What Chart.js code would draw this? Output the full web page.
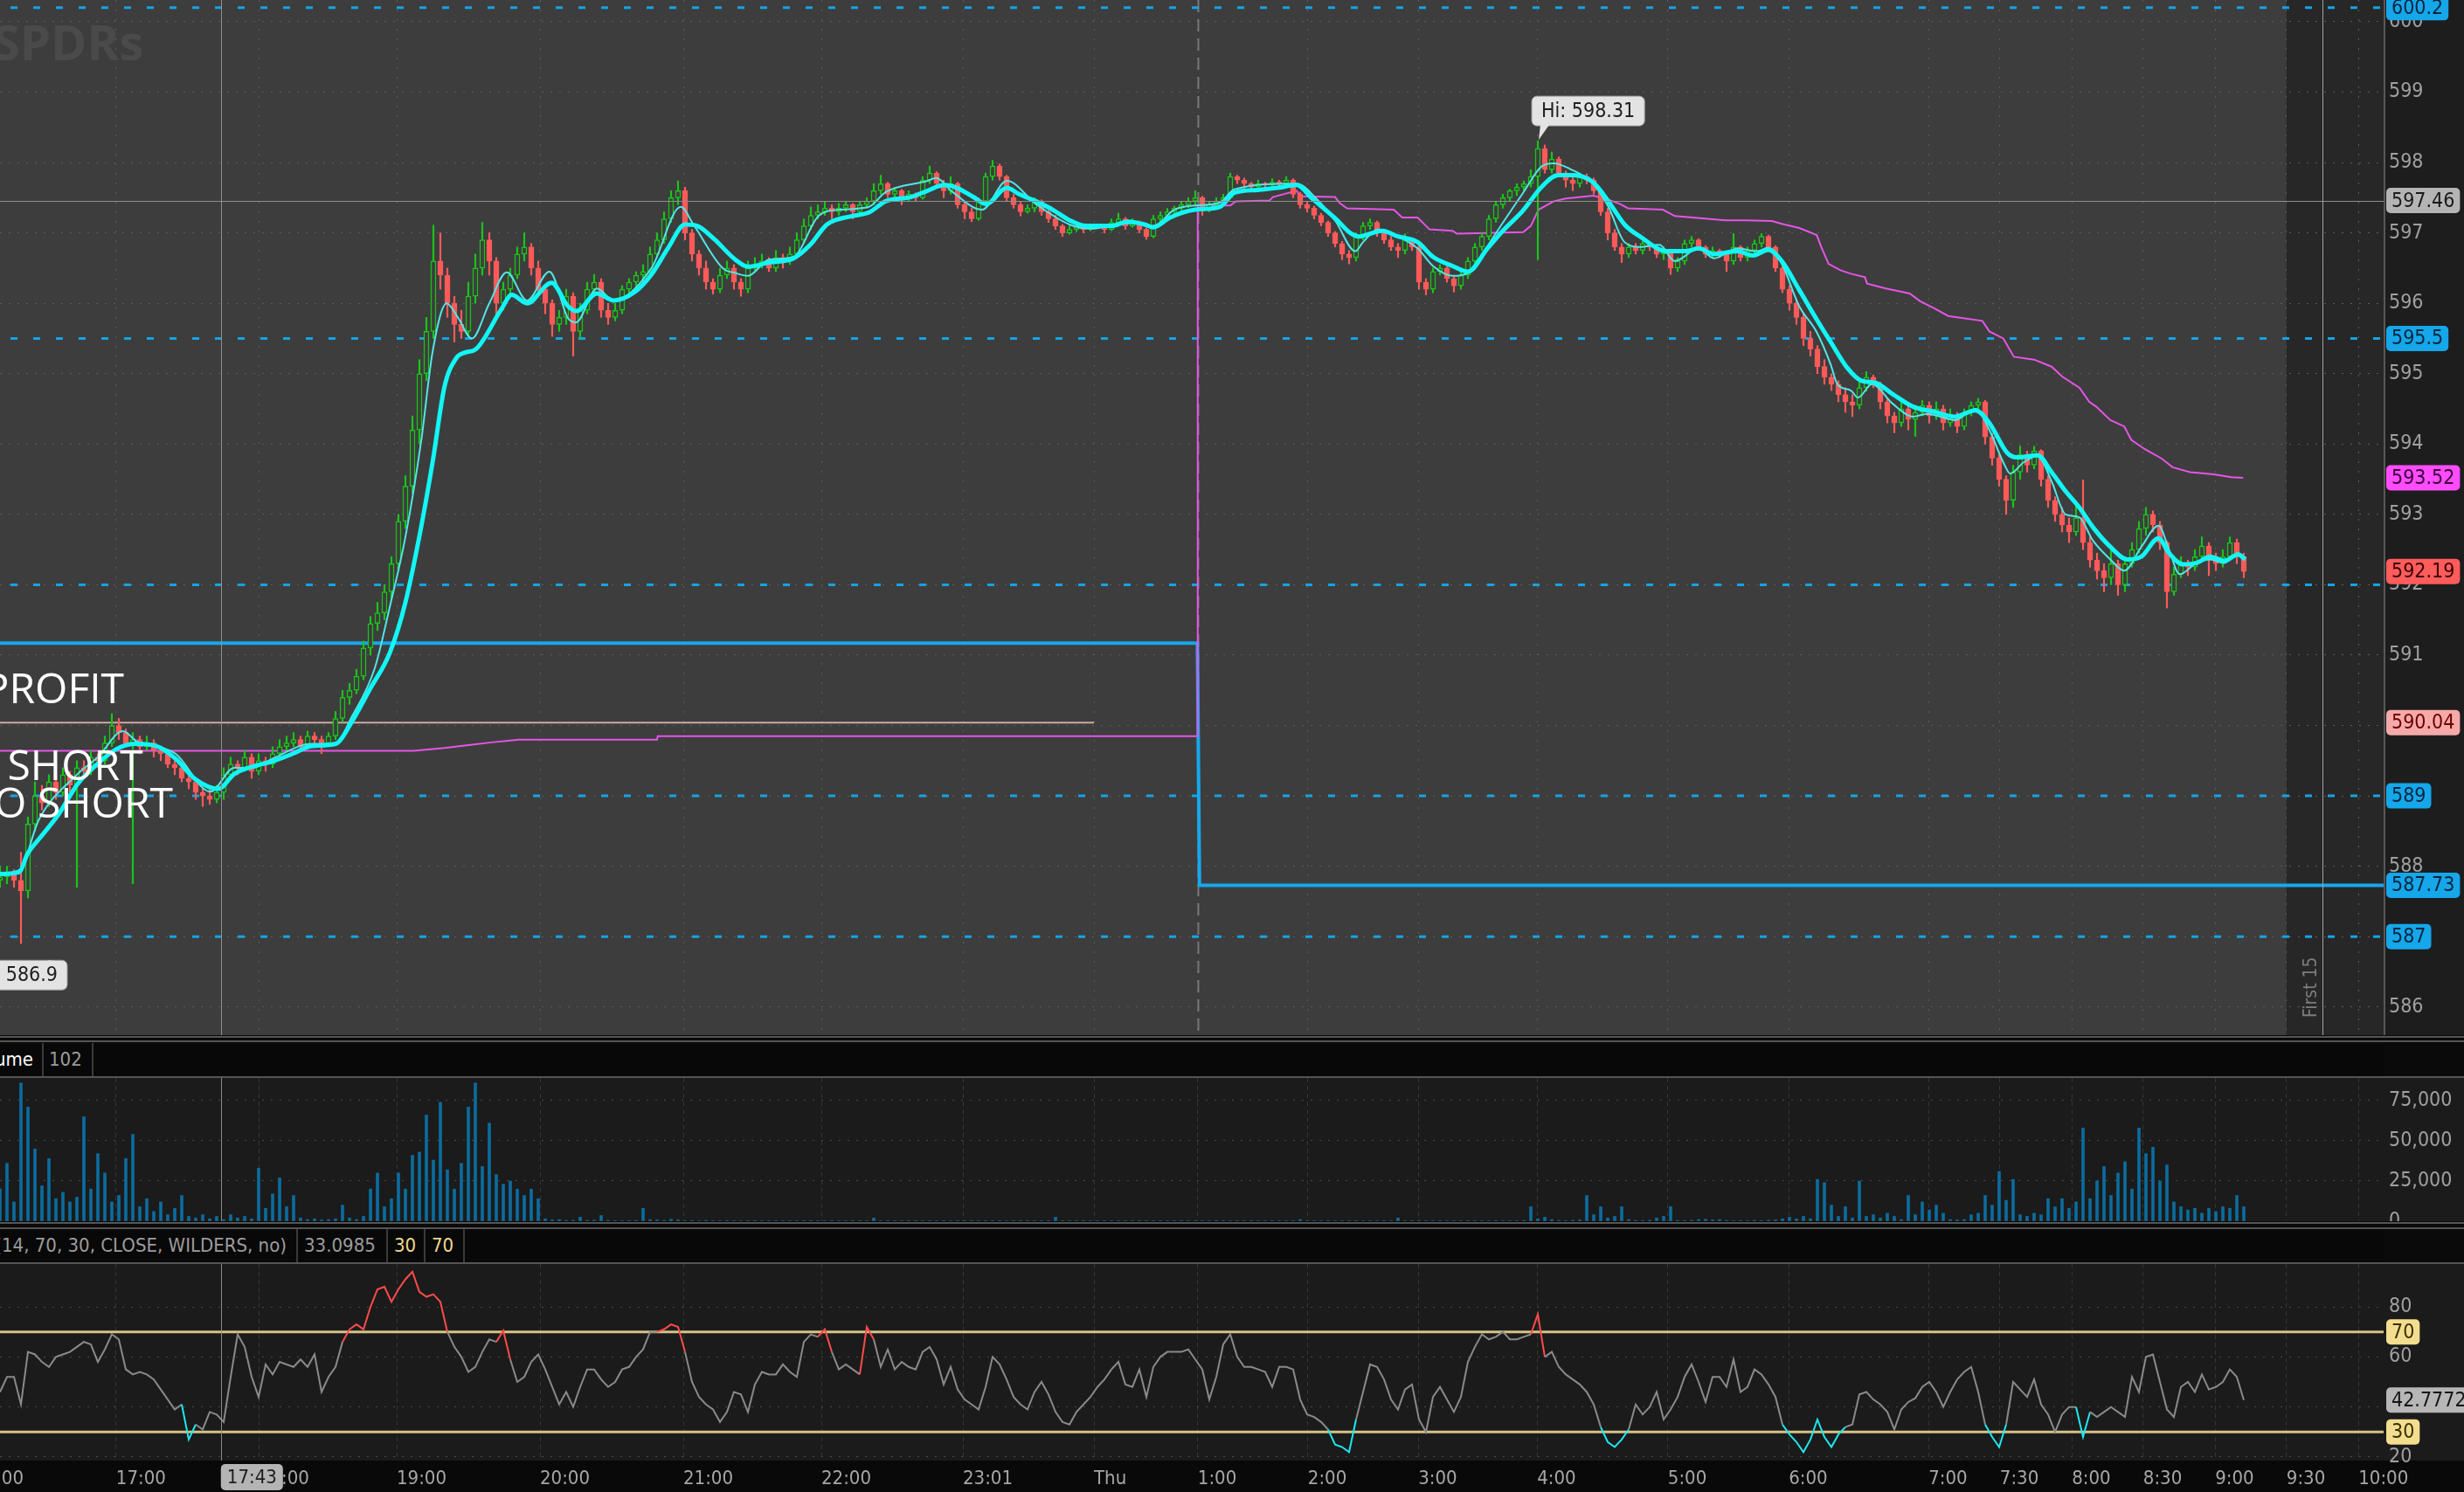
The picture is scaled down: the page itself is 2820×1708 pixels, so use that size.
<!DOCTYPE html>
<html><head><meta charset="utf-8"><title>SPY 1m</title>
<script src="https://cdn.jsdelivr.net/npm/chart.js@4.4.1/dist/chart.umd.min.js"></script>
<style>
html,body{margin:0;padding:0;width:2820px;height:1708px;background:#0a0a0a;overflow:hidden}
canvas{position:absolute;left:0;display:block}
.sep{position:absolute;left:0;width:2820px;background:#555}
.head{position:absolute;left:0;width:2728px;height:38px;background:#080808;overflow:hidden;font-family:'Liberation Sans Narrow','DejaVu Sans Condensed','Open Sans',sans-serif;font-size:22px;color:#9c9c9c}
.head span{position:absolute;top:6px;white-space:nowrap}
.head i{position:absolute;top:0;width:2px;height:38px;background:#3a3a3a}
</style></head><body>
<canvas id="cMain" width="2820" height="1185" style="top:0"></canvas>
<div class="sep" style="top:1186px;height:2px"></div>
<div class="sep" style="top:1191px;height:2px"></div>
<div class="head" style="top:1194px"><span style="left:38px;transform:translateX(-100%);color:#fff">Volume</span><i style="left:48px"></i><span style="left:56px">102</span><i style="left:105px"></i></div>
<div class="sep" style="top:1232px;height:2px"></div>
<canvas id="cVol" width="2820" height="164" style="top:1234px"></canvas>
<div class="sep" style="top:1399px;height:2px"></div>
<div class="sep" style="top:1405px;height:2px"></div>
<div class="head" style="top:1407px"><span style="left:328px;transform:translateX(-100%)">RSI (14, 70, 30, CLOSE, WILDERS, no)</span><i style="left:339px"></i><span style="left:348px">33.0985</span><i style="left:442px"></i><span style="left:451px;color:#f0d890">30</span><i style="left:485px"></i><span style="left:494px;color:#f0d890">70</span><i style="left:530px"></i></div>
<div class="sep" style="top:1445px;height:2px"></div>
<canvas id="cRsi" width="2820" height="261" style="top:1447px"></canvas>
<script>
// ---------- DATA ----------
const tickBars = [-3.75,16.6,37.1,56.75,77.25,97.75,117.5,137.75,156.5,171.35,187.1,202.9,219.9,238.6,255.9,275.9,286.1,296.4,306.6,316.9,327.1,337.4];
const tickLabels = ['16:00','17:00','18:00','19:00','20:00','21:00','22:00','23:01','Thu','1:00','2:00','3:00','4:00','5:00','6:00','7:00','7:30','8:00','8:30','9:00','9:30','10:00'];
const priceTicks = [586,587,588,589,590,591,592,593,594,595,596,597,598,599,600];
const volTicks = [0,25000,50000,75000];
const rsiTicks = [20,40,60,80];
const levels = [600.2,595.5,592,589,587];          // dashed price levels
const taggedLevels = [600.2,595.5,589,587];
const prevClose = 590.04, prevCloseEnd = 156.5;
const stopX = [-5,171.3,171.6,346];
const stopY = [591.17,591.17,587.73,587.73];
const crossBar = 31.6, crossPrice = 597.46, crossTime = '17:43';
const sessionBreak = 171.35, expansionStart = 327.1, first15Bar = 332.25;
const rsiUpper = 70, rsiLower = 30;
const notes = [['PROFIT',17.75,590.32],['SHORT',20.45,589.23],['O SHORT',24.75,588.69]];
// [open, high, low, close] per bar
const candles = [
[587.8,588,587.7,587.85],[587.85,588,587.75,587.9],[587.9,587.95,587.7,587.8],[587.8,588.2,586.9,587.65],[587.65,588.7,587.55,588.6],
[588.6,589.2,588.5,589],[589,589.15,588.8,588.9],[588.9,589.3,588.85,589.2],[589.2,589.3,588.95,589.05],[589.05,589.4,589,589.3],
[589.3,589.35,589.05,589.15],[589.15,589.5,587.7,589.4],[589.4,589.5,589.25,589.35],[589.35,589.65,589.3,589.55],[589.55,589.6,589.4,589.5],
[589.5,589.85,589.45,589.75],[589.75,590.17,589.7,590],[590,590.1,589.8,589.9],[589.9,589.95,589.7,589.75],[589.75,589.9,587.75,589.8],
[589.8,589.85,589.6,589.7],[589.7,589.85,589.65,589.75],[589.75,589.8,589.55,589.65],[589.65,589.7,589.5,589.6],[589.6,589.65,589.4,589.45],
[589.45,589.5,589.3,589.4],[589.4,589.45,589.2,589.25],[589.25,589.3,589.1,589.2],[589.2,589.25,588.95,589.05],[589.05,589.1,588.85,589],
[589,589.1,588.88,588.95],[588.95,589.15,588.9,589.05],[589.05,589.4,588.95,589.3],[589.3,589.55,589.25,589.45],[589.45,589.5,589.3,589.4],
[589.4,589.65,589.35,589.55],[589.55,589.6,589.25,589.35],[589.35,589.6,589.3,589.5],[589.5,589.55,589.35,589.45],[589.45,589.7,589.4,589.6],
[589.6,589.8,589.55,589.7],[589.7,589.85,589.65,589.75],[589.75,589.9,589.7,589.8],[589.8,589.85,589.65,589.7],[589.7,589.92,589.68,589.85],
[589.85,589.9,589.75,589.8],[589.8,589.85,589.6,589.75],[589.75,589.9,589.7,589.85],[589.85,590.2,589.8,590.1],[590.1,590.5,590.05,590.4],
[590.4,590.6,590.3,590.5],[590.5,590.8,590.45,590.7],[590.7,591.2,590.65,591.1],[591.1,591.55,591,591.45],[591.45,591.75,591.35,591.6],
[591.6,592,591.5,591.9],[591.9,592.4,591.8,592.3],[592.3,593,592.2,592.9],[592.9,593.55,592.8,593.4],[593.4,594.4,593.3,594.2],
[594.2,595.2,594,595],[595,595.8,594.9,595.6],[595.6,597.11,595.5,596.6],[596.6,597,596.2,596.4],[596.4,596.5,595.8,596],
[596,596.1,595.45,595.7],[595.7,595.9,595.5,595.6],[595.6,596.3,595.55,596.1],[596.1,596.7,596,596.5],[596.5,597.15,596.4,596.9],
[596.9,597,596.4,596.6],[596.6,596.65,595.8,596],[596,596.3,595.9,596.2],[596.2,596.5,596.1,596.4],[596.4,596.8,596.35,596.7],
[596.7,597,596.6,596.8],[596.8,596.85,596.4,596.5],[596.5,596.6,596.1,596.2],[596.2,596.25,595.85,596],[596,596.05,595.53,595.7],
[595.7,595.9,595.6,595.8],[595.8,596.2,595.7,596.1],[596.1,596.15,595.25,595.6],[595.6,596,595.5,595.9],[595.9,596.3,595.85,596.2],
[596.2,596.41,596.1,596.3],[596.3,596.35,595.8,595.9],[595.9,596,595.7,595.8],[595.8,596,595.75,595.9],[595.9,596.25,595.85,596.2],
[596.2,596.35,596.1,596.3],[596.3,596.45,596.2,596.4],[596.4,596.55,596.3,596.45],[596.45,596.8,596.4,596.7],[596.7,597,596.65,596.9],
[596.9,597.3,596.85,597.2],[597.2,597.6,597.15,597.5],[597.5,597.74,597.4,597.6],[597.6,597.65,596.9,597],[597,597.05,596.6,596.7],
[596.7,596.75,596.4,596.5],[596.5,596.6,596.2,596.3],[596.3,596.35,596.13,596.2],[596.2,596.5,596.15,596.4],[596.4,596.6,596.35,596.5],
[596.5,596.55,596.2,596.3],[596.3,596.35,596.1,596.2],[596.2,596.6,596.15,596.5],[596.5,596.65,596.45,596.55],[596.55,596.7,596.5,596.6],
[596.6,596.65,596.45,596.5],[596.5,596.75,596.45,596.65],[596.65,596.7,596.5,596.6],[596.6,596.8,596.55,596.7],[596.7,597,596.65,596.9],
[596.9,597.2,596.85,597.1],[597.1,597.37,597.05,597.25],[597.25,597.4,597.2,597.3],[597.3,597.45,597.25,597.35],[597.35,597.4,597.2,597.3],
[597.3,597.42,597.25,597.35],[597.35,597.45,597.3,597.4],[597.4,597.42,597.2,597.3],[597.3,597.45,597.25,597.4],[597.4,597.5,597.35,597.45],
[597.45,597.7,597.4,597.6],[597.6,597.82,597.55,597.7],[597.7,597.72,597.5,597.55],[597.55,597.65,597.45,597.6],[597.6,597.62,597.4,597.5],
[597.5,597.6,597.45,597.55],[597.55,597.57,597.45,597.5],[597.5,597.8,597.48,597.75],[597.75,597.95,597.7,597.85],[597.85,597.87,597.65,597.7],
[597.7,597.75,597.5,597.6],[597.6,597.8,597.55,597.7],[597.7,597.72,597.35,597.4],[597.4,597.45,597.2,597.3],[597.3,597.35,597.16,597.2],
[597.2,597.5,597.18,597.45],[597.45,597.85,597.4,597.8],[597.8,598.03,597.75,597.95],[597.95,597.98,597.75,597.8],[597.8,597.82,597.45,597.5],
[597.5,597.55,597.35,597.4],[597.4,597.45,597.24,597.3],[597.3,597.4,597.28,597.35],[597.35,597.5,597.3,597.45],[597.45,597.47,597.25,597.3],
[597.3,597.32,597.15,597.2],[597.2,597.25,597.05,597.1],[597.1,597.12,596.95,597],[597,597.1,596.98,597.05],[597.05,597.15,597.02,597.1],
[597.1,597.12,597,597.05],[597.05,597.12,597.03,597.1],[597.1,597.12,597.08,597.1],[597.1,597.11,597,597.05],[597.05,597.2,597.03,597.15],
[597.15,597.28,597.12,597.2],[597.2,597.22,597.05,597.1],[597.1,597.2,597.08,597.15],[597.15,597.17,597,597.05],[597.05,597.07,596.91,596.95],
[596.95,597.25,596.93,597.2],[597.2,597.3,597.16,597.25],[597.25,597.35,597.2,597.3],[597.3,597.38,597.25,597.35],[597.35,597.45,597.3,597.4],
[597.4,597.5,597.36,597.45],[597.45,597.6,597.4,597.5],[597.5,597.52,597.25,597.35],[597.35,597.45,597.3,597.4],[597.4,597.5,597.36,597.45],
[597.45,597.55,597.4,597.5],[597.5,597.85,597.48,597.8],[597.8,597.82,597.7,597.75],[597.75,597.78,597.62,597.7],[597.7,597.72,597.6,597.65],
[597.65,597.75,597.62,597.7],[597.7,597.72,597.62,597.68],[597.68,597.77,597.65,597.72],[597.72,597.75,597.66,597.7],[597.7,597.8,597.68,597.75],
[597.75,597.77,597.5,597.55],[597.55,597.58,597.35,597.4],[597.4,597.45,597.3,597.35],[597.35,597.38,597.2,597.25],[597.25,597.28,597.1,597.15],
[597.15,597.17,596.95,597],[597,597.02,596.8,596.85],[596.85,596.88,596.62,596.7],[596.7,596.75,596.56,596.65],[596.65,597,596.6,596.95],
[596.95,597.15,596.9,597.1],[597.1,597.2,597.05,597.15],[597.15,597.17,596.95,597],[597,597.05,596.85,596.9],[596.9,596.95,596.75,596.8],
[596.8,596.85,596.65,596.75],[596.75,596.99,596.7,596.9],[596.9,596.92,596.75,596.8],[596.8,596.82,596.2,596.3],[596.3,596.35,596.12,596.2],
[596.2,596.5,596.15,596.45],[596.45,596.55,596.4,596.5],[596.5,596.52,596.3,596.35],[596.35,596.38,596.16,596.25],[596.25,596.45,596.2,596.4],
[596.4,596.65,596.35,596.6],[596.6,596.85,596.55,596.8],[596.8,597,596.75,596.95],[596.95,597.25,596.9,597.2],[597.2,597.45,597.15,597.4],
[597.4,597.55,597.35,597.5],[597.5,597.62,597.45,597.6],[597.6,597.7,597.53,597.65],[597.65,597.74,597.6,597.7],[597.7,597.9,597.65,597.8],
[597.8,598.31,596.62,598.2],[598.2,598.25,597.85,597.9],[597.9,598.15,597.85,598.05],[598.05,598.08,597.8,597.85],[597.85,597.88,597.65,597.75],
[597.75,597.8,597.6,597.7],[597.7,597.85,597.65,597.8],[597.8,597.84,597.7,597.75],[597.75,597.78,597.55,597.6],[597.6,597.62,597.25,597.3],
[597.3,597.35,596.9,597],[597,597.05,596.75,596.8],[596.8,596.85,596.58,596.7],[596.7,596.85,596.65,596.8],[596.8,596.85,596.7,596.75],
[596.75,596.88,596.7,596.85],[596.85,596.87,596.75,596.8],[596.8,596.82,596.65,596.7],[596.7,596.8,596.62,596.75],[596.75,596.77,596.41,596.5],
[596.5,596.65,596.45,596.6],[596.6,596.9,596.55,596.85],[596.85,596.95,596.8,596.9],[596.9,596.92,596.75,596.8],[596.8,596.82,596.65,596.7],
[596.7,596.8,596.65,596.75],[596.75,596.77,596.65,596.7],[596.7,596.72,596.45,596.6],[596.6,596.99,596.55,596.8],[596.8,596.82,596.6,596.65],
[596.65,596.8,596.6,596.75],[596.75,596.9,596.7,596.85],[596.85,596.99,596.8,596.95],[596.95,596.97,596.75,596.8],[596.8,596.82,596.45,596.5],
[596.5,596.52,596.15,596.2],[596.2,596.25,595.9,596],[596,596.05,595.7,595.8],[595.8,595.85,595.4,595.5],[595.5,595.6,595.25,595.35],
[595.35,595.4,595,595.1],[595.1,595.2,594.85,594.95],[594.95,595,594.76,594.85],[594.85,594.9,594.6,594.7],[594.7,594.8,594.45,594.6],
[594.6,594.7,594.39,594.55],[594.55,594.9,594.5,594.8],[594.8,595.03,594.75,594.95],[594.95,594.98,594.8,594.85],[594.85,594.88,594.5,594.6],
[594.6,594.65,594.3,594.4],[594.4,594.45,594.16,594.3],[594.3,594.6,594.25,594.5],[594.5,594.55,594.2,594.35],[594.35,594.55,594.11,594.45],
[594.45,594.62,594.4,594.55],[594.55,594.6,594.3,594.4],[594.4,594.6,594.35,594.5],[594.5,594.55,594.2,594.3],[594.3,594.5,594.25,594.4],
[594.4,594.45,594.16,594.25],[594.25,594.5,594.2,594.45],[594.45,594.6,594.4,594.55],[594.55,594.65,594.5,594.6],[594.6,594.62,594,594.1],
[594.1,594.15,593.7,593.8],[593.8,593.85,593.4,593.5],[593.5,593.55,593,593.2],[593.2,593.7,593.1,593.6],[593.6,593.97,593.5,593.85],
[593.85,593.9,593.6,593.7],[593.7,593.97,593.65,593.9],[593.9,593.92,593.4,593.5],[593.5,593.55,593.1,593.2],[593.2,593.25,592.9,593],
[593,593.1,592.75,592.85],[592.85,592.95,592.6,592.75],[592.75,593.14,592.7,592.95],[592.95,593.49,592.5,592.6],[592.6,592.68,592.25,592.35],
[592.35,592.45,592.08,592.2],[592.2,592.3,591.9,592.1],[592.1,592.5,592,592.3],[592.3,592.35,591.85,592],[592,592.4,591.9,592.3],
[592.3,592.6,592.25,592.5],[592.5,592.9,592.45,592.8],[592.8,593.1,592.7,593],[593,593.05,592.75,592.85],[592.85,592.9,592.5,592.6],
[592.6,592.62,591.67,591.9],[591.9,592.25,591.85,592.15],[592.15,592.4,592.1,592.3],[592.3,592.35,592.13,592.25],[592.25,592.5,592.2,592.4],
[592.4,592.68,592.35,592.55],[592.55,592.6,592.13,592.35],[592.35,592.45,592.2,592.3],[592.3,592.5,592.25,592.4],[592.4,592.68,592.35,592.6],
[592.6,592.65,592.3,592.4],[592.4,592.45,592.1,592.19]
];
const emaSlow = [[0,587.89],[2.8,587.92],[3.9,588.17],[5.6,588.39],[8.4,588.74],[11.1,589.17],[14,589.46],[16.75,589.67],[19.5,589.74],[22.3,589.71],[25.1,589.53],[27.9,589.24],[31.25,589.1],[33.5,589.31],[36.25,589.42],[39,589.49],[41.9,589.6],[44.6,589.71],[48,589.74],[50.2,590.03],[53,590.53],[55.75,591.03],[58,591.75],[60.25,592.82],[61.9,593.75],[63.6,594.82],[65.25,595.22],[66.5,595.3],[68.1,595.35],[71.75,595.92],[73.2,596.12],[75.4,596],[78.9,596.29],[81.25,595.96],[82.45,595.89],[85.4,596.14],[87.8,596.04],[90.8,596.16],[93.2,596.41],[95.6,596.79],[98,597.12],[99.75,597.1],[102.2,596.91],[105.2,596.62],[107,596.52],[110,596.58],[113.55,596.64],[115.9,596.83],[118.3,597.12],[121.9,597.24],[124.3,597.29],[126.7,597.45],[130.3,597.51],[132.7,597.6],[135.1,597.68],[136.9,597.64],[139.25,597.51],[141.1,597.41],[144.05,597.64],[145.8,597.55],[148.2,597.45],[150.6,597.33],[153,597.18],[155.4,597.1],[159,597.1],[161.4,597.16],[163.75,597.12],[165,597.08],[167.4,597.22],[171,597.33],[174.5,597.37],[176.6,597.57],[179.9,597.61],[182.7,597.64],[185.5,597.68],[187.7,597.49],[191.1,597.2],[193.3,596.99],[194.4,596.95],[197.75,597.03],[200,596.95],[202.8,596.87],[205,596.66],[207.8,596.53],[210,596.45],[212.8,596.78],[215,597.03],[217.9,597.32],[220.6,597.66],[222.9,597.82],[225.1,597.82],[227.9,597.72],[230.1,597.45],[232.4,597.12],[234.6,596.95],[238.5,596.74],[241.25,596.74],[243,596.78],[245.2,596.7],[248.55,596.74],[250.75,596.68],[253,596.76],[254.9,596.6],[257.4,596.19],[259.9,595.77],[261.9,595.45],[264.3,595.08],[266.3,594.9],[268.3,594.87],[270.75,594.71],[273.7,594.53],[276.7,594.46],[279.65,594.39],[282.6,594.48],[284.6,594.3],[287.1,593.88],[288.55,593.81],[291.5,593.84],[293.5,593.6],[295.5,593.33],[297.45,593.1],[299.4,592.82],[301.9,592.54],[304.4,592.36],[306.35,592.4],[308.8,592.66],[310.3,592.45],[312.3,592.29],[314.25,592.31],[316.2,592.4],[318.2,592.34],[320.2,592.43],[321.2,592.36]];
const emaFast = [[0,587.89],[2.8,587.95],[5.6,588.67],[11.1,589.31],[14,589.55],[17.6,589.92],[19.5,589.78],[25.1,589.6],[30.1,589.06],[33.5,589.4],[36.25,589.4],[39,589.53],[44.6,589.74],[48,589.74],[50.2,590.1],[53.6,590.81],[55.75,591.68],[58,592.68],[60.25,594.04],[61.9,595.32],[63.9,596],[65.5,595.8],[67.5,595.5],[70,596],[72.5,596.44],[75.4,596.04],[78.6,596.45],[81.25,595.79],[82.4,595.73],[85.4,596.21],[87.8,596.04],[93.2,596.5],[97.4,597.37],[99.2,597.12],[103.4,596.5],[105.2,596.43],[107,596.39],[110,596.62],[113.5,596.66],[117.1,597.24],[120.1,597.33],[124.3,597.37],[126.7,597.58],[132.7,597.74],[133.9,597.78],[136.3,597.58],[140.5,597.33],[144.05,597.74],[148.2,597.41],[153,597.12],[156,597.06],[159,597.1],[162,597.14],[165,597.1],[168,597.33],[171,597.39],[174.5,597.43],[176.6,597.62],[185.5,597.7],[188.3,597.49],[191.1,597.16],[193.9,596.74],[195,596.87],[197.2,597.05],[200,596.95],[202.8,596.78],[205,596.53],[207.8,596.39],[210,596.43],[212.3,596.74],[215.1,597.16],[217.9,597.57],[220.6,597.95],[222.3,597.99],[224.6,597.91],[227.9,597.7],[230.1,597.37],[232.4,596.87],[234.6,596.8],[237.4,596.83],[239.6,596.6],[243,596.78],[245.2,596.64],[248.6,596.78],[251.3,596.74],[253,596.79],[254.9,596.56],[257.4,595.96],[259.9,595.59],[261.9,595.13],[262.85,594.85],[264.8,594.76],[265.8,594.66],[267.8,594.85],[270.8,594.57],[273.7,594.39],[275.7,594.43],[279.7,594.34],[282.6,594.5],[284.6,594.2],[286.6,593.74],[287.6,593.58],[289.5,593.74],[291.5,593.83],[293.5,593.47],[295.5,593],[297.45,592.96],[299.4,592.63],[301.9,592.36],[303.9,592.2],[306.35,592.54],[308.8,592.84],[310.3,592.5],[311.8,592.15],[314.25,592.31],[316.2,592.36],[318.2,592.31],[320.2,592.45],[321.2,592.38]];
const vwap = [[-5,589.64],[59.2,589.64],[63.6,589.68],[67,589.72],[70.3,589.76],[74.2,589.8],[94,589.8],[94.1,589.85],[171.3,589.85],[171.35,597.39],[176,597.39],[176.8,597.45],[181.6,597.46],[182.1,597.51],[185.5,597.6],[186,597.52],[191,597.51],[191.6,597.43],[192.7,597.35],[199.4,597.33],[200.6,597.22],[202.8,597.22],[204.5,597.05],[207.8,597.03],[208.4,596.99],[217.9,597.01],[219,597.1],[220.1,597.33],[222.3,597.45],[224,597.49],[227.9,597.53],[229.6,597.49],[231.8,597.41],[232.9,597.35],[237.9,597.33],[239.6,597.24],[246.9,597.18],[250,597.18],[253.5,597.17],[254.9,597.13],[257.4,597.07],[259.9,596.97],[260.6,596.79],[261.6,596.56],[263.3,596.47],[264.8,596.42],[266.8,596.37],[267.1,596.28],[269.8,596.21],[273.2,596.14],[274.7,596.03],[276.7,595.93],[278.7,595.82],[283.6,595.75],[284.6,595.6],[286.6,595.5],[288.1,595.24],[291,595.2],[293.5,595.1],[295,594.96],[297.5,594.8],[298.9,594.6],[299.9,594.53],[301.9,594.34],[303.9,594.25],[304.9,594.06],[306.8,593.93],[309.3,593.79],[310.8,593.67],[313.3,593.6],[316.7,593.57],[319.2,593.53],[320.9,593.52]];
const volume = [
20000,36000,12000,86000,71000,45000,22000,39000,14000,18000,
12000,15000,65000,20000,42000,30000,12000,16000,39000,54000,
9000,14000,6000,12000,4000,8000,16000,3000,2000,4000,
1500,3000,1000,4000,2000,3000,1500,33000,8000,17000,
27000,9000,16000,2000,1000,1500,800,1000,1500,10000,
2000,1000,3000,20000,30000,9000,14000,30000,20000,41000,
43000,66000,38000,74000,32000,20000,36000,71000,86000,34000,
61000,29000,23000,25000,20000,16000,20000,14000,1500,800,
1000,500,600,2500,500,600,3500,500,400,300,
400,500,8000,1000,800,500,1200,800,300,400,
300,500,200,300,400,200,300,200,400,300,
200,300,200,200,300,200,400,200,300,200,
200,300,200,200,300,2000,300,200,200,300,
200,200,300,200,200,200,300,200,200,200,
300,200,200,200,300,200,200,200,300,200,
200,2500,200,200,300,200,200,200,300,200,
200,200,300,200,200,200,300,200,200,400,
300,200,200,300,400,200,300,200,300,200,
200,300,200,200,300,200,1000,300,200,300,
200,300,200,300,200,300,200,300,200,300,
2000,300,200,300,200,300,200,300,200,300,
200,300,200,300,400,300,200,300,500,9000,
1500,2500,1000,500,400,600,800,16000,4000,9000,
2000,3000,9000,1000,500,400,600,2000,3000,9000,
500,400,600,1000,1200,800,1000,500,300,400,
300,500,400,600,800,1500,2500,1500,3000,1500,
26000,24000,10000,3000,9000,2000,25000,3000,4000,2000,
5000,3000,1000,16000,4000,12000,7000,10000,5000,1000,
800,1000,4000,5000,16000,10000,31000,13000,26000,4000,
3000,5000,4000,14000,9000,14000,8000,12000,58000,14000,
25000,34000,16000,30000,37000,20000,58000,42000,46000,25000,
35000,12000,9000,7000,8000,5000,8000,6000,9000,8000,
16000,9000];
const rsi = [
46,52,52,41,62,61,58,56,60,61,
62,64,66,65,58,63,69,67,55,53,
54,53,51,47,43,39,41,27,33,31,
38,37,34,52,69,64,52,44,57,53,
58,57,56,59,56,61,46,52,56,66,
71,73,71,80,87,88,82,87,91,94,
86,84,85,82,70,64,60,54,56,62,
67,66,70.5,59,50,52,58,61,55,48,
41,46,40,48,55,55,51,48,50,55,
56,60,63,70,70,71,73,72,62,50,
44,41,39,34,38,46,45,38,49,54,
53,53,57,54,52,66,69,68,71,62,
55,57,55,53,72,67,56,63,55,58,
56,55,62,64,59,49,56,47,43,41,
39,48,60,57,51,44,41,39,46,50,
45,38,34,33,38,41,44,48,51,55,
58,49,48,55,44,56,60,62,62,62,
63,59,55,43,52,65,69,60,56,56,
55,54,48,56,56,55,43,37,36,34,
31,25,24,22,35,46,57,56,51,43,
39,47,49,35,30,44,48,43,38,44,
58,64,69,67,68,70,67,67,68,69,
77,60,62,56,53,51,49,46,41,32,
26,24,27,31,41,37,40,46,35,39,
44,52,57,50,42,52,52,48,59,46,
48,55,53,49,44,33,29,26,22,27,
35,28,24,29,32,33,45,46,43,41,
38,31,39,42,43.5,48,50,46,40,46,
51,54,56,46,33,28,24,33,50,47,
44,51,41,37,30,37,40,40,28,38,
36,38,40,38,36,52,46,60,61,50,
39,36,48,50,46,53,47,48,50,55,
52,42.7772];

// ---------- CHART SETUP ----------
const X_MIN = 0, X_MAX = 341;
const FONT = "'Liberation Sans Narrow','DejaVu Sans Condensed','Open Sans',sans-serif";
Chart.defaults.font.family = FONT;
Chart.defaults.animation = false;
Chart.defaults.responsive = false;
Chart.defaults.devicePixelRatio = 1;
Chart.defaults.events = [];
Chart.defaults.plugins.legend.display = false;
Chart.defaults.plugins.tooltip.enabled = false;

const UP = '#19c419', DN = '#ff5a5a', MAIN_BG = '#3d3d3d', AX_BG = '#1d1d1d', LOW_BG = '#1b1b1b';
const AXIS_W = 92;

function xScale(showLabels, gridColor, dash) {
  return {
    type: 'linear', min: X_MIN, max: X_MAX, offset: false,
    afterBuildTicks: s => { s.ticks = tickBars.map(v => ({ value: v })); },
    ticks: { display: showLabels, autoSkip: false, maxRotation: 0, minRotation: 0, align: 'start', color: '#a6a6a6', font: { family: FONT, size: 22 }, padding: 8, callback: (v, i) => tickLabels[i] },
    grid: { color: gridColor, drawTicks: false, offset: false, lineWidth: 1 },
    border: { display: false, dash: dash },
    afterFit: s => { s.paddingLeft = 0; s.paddingRight = 0; s.height = showLabels ? 36 : 0; }
  };
}
function yScale(min, max, ticks, fmt, gridColor) {
  return {
    position: 'right', min, max, beginAtZero: false,
    afterBuildTicks: s => { s.ticks = ticks.map(v => ({ value: v })); },
    ticks: { color: '#a0a0a0', font: { family: FONT, size: 23 }, padding: 6, callback: fmt },
    grid: { color: gridColor, drawTicks: false },
    border: { display: false, dash: [2, 8] },
    afterFit: s => { s.width = AXIS_W; s.paddingTop = 0; s.paddingBottom = 0; }
  };
}
function tag(ctx, x, y, text, bg, fg) {
  ctx.save();
  ctx.font = '23px ' + FONT;
  const w = ctx.measureText(text).width + 12, h = 29;
  ctx.fillStyle = bg; ctx.beginPath(); ctx.roundRect(x, y - h / 2, w, h, 5); ctx.fill();
  ctx.fillStyle = fg; ctx.textBaseline = 'middle'; ctx.textAlign = 'left';
  ctx.fillText(text, x + 6, y + 1);
  ctx.restore();
}
function vline(ctx, x, top, bottom, color, width, dash) {
  ctx.save(); ctx.strokeStyle = color; ctx.lineWidth = width; ctx.setLineDash(dash || []);
  ctx.beginPath(); ctx.moveTo(Math.round(x) + 0.5, top); ctx.lineTo(Math.round(x) + 0.5, bottom); ctx.stroke(); ctx.restore();
}
function bubble(ctx, bx, by, text, tipX, tipY, up) {
  ctx.save();
  ctx.font = '23px ' + FONT;
  const w = ctx.measureText(text).width + 22, h = 34;
  ctx.fillStyle = '#e3e3e3'; ctx.strokeStyle = '#9a9a9a'; ctx.lineWidth = 1;
  ctx.beginPath(); ctx.roundRect(bx, by, w, h, 6); ctx.fill(); ctx.stroke();
  ctx.beginPath();
  if (up) { ctx.moveTo(tipX + 2, by + 1); ctx.lineTo(tipX, tipY); ctx.lineTo(tipX + 12, by + 1); }
  else { ctx.moveTo(tipX + 2, by + h - 1); ctx.lineTo(tipX, tipY); ctx.lineTo(tipX + 12, by + h - 1); }
  ctx.closePath(); ctx.fill();
  ctx.fillStyle = '#202020'; ctx.textBaseline = 'middle'; ctx.fillText(text, bx + 11, by + h / 2 + 1);
  ctx.restore();
  return w;
}
const pts = arr => arr.map(p => ({ x: p[0], y: p[1] }));
const hLine = (v, x0, x1) => [{ x: x0, y: v }, { x: x1, y: v }];

// ---------- MAIN PRICE PANEL ----------
const lastClose = candles[candles.length - 1][3];
const lastVwap = vwap[vwap.length - 1][1];
const lastStop = stopY[stopY.length - 1];
let hiIdx = 0, loIdx = 0;
candles.forEach((c, i) => { if (c[1] > candles[hiIdx][1]) hiIdx = i; if (c[2] < candles[loIdx][2]) loIdx = i; });

const mainPlugin = {
  id: 'mainDeco',
  beforeDraw(chart) {
    const { ctx, chartArea: a, scales: { x } } = chart;
    ctx.save();
    ctx.fillStyle = AX_BG; ctx.fillRect(0, 0, chart.width, chart.height);
    ctx.fillStyle = MAIN_BG; ctx.fillRect(a.left, a.top, a.right - a.left, a.bottom - a.top);
    const ex = x.getPixelForValue(expansionStart);
    ctx.fillStyle = '#272727'; ctx.fillRect(ex, a.top, a.right - ex, a.bottom - a.top);
    ctx.restore();
  },
  beforeDatasetsDraw(chart) {
    const { ctx, chartArea: a, scales: { x } } = chart;
    ctx.save();
    ctx.fillStyle = '#4a4a4a'; ctx.font = "bold 56px 'Open Sans',sans-serif"; ctx.textBaseline = 'alphabetic';
    ctx.fillText('SPDRs', -8, 69);
    ctx.restore();
    vline(ctx, x.getPixelForValue(sessionBreak), a.top, a.bottom, '#777', 2, [14, 8]);
  },
  afterDatasetsDraw(chart) {
    const { ctx, chartArea: a, scales: { x, y } } = chart;
    vline(ctx, x.getPixelForValue(crossBar), a.top, a.bottom, '#8f8f8f', 1);
    ctx.save(); ctx.strokeStyle = '#8f8f8f'; ctx.lineWidth = 1;
    const cy = Math.round(y.getPixelForValue(crossPrice)) + 0.5;
    ctx.beginPath(); ctx.moveTo(a.left, cy); ctx.lineTo(a.right, cy); ctx.stroke(); ctx.restore();
    const fx = x.getPixelForValue(first15Bar);
    vline(ctx, fx, a.top, a.bottom, '#a2a2a2', 1);
    ctx.save(); ctx.translate(fx - 2, a.bottom - 20); ctx.rotate(-Math.PI / 2);
    ctx.fillStyle = '#7c7c7c'; ctx.font = '21px ' + FONT; ctx.textBaseline = 'bottom'; ctx.fillText('First 15', 0, 0); ctx.restore();
    ctx.save(); ctx.fillStyle = '#ffffff'; ctx.font = "48px 'Open Sans',sans-serif"; ctx.textAlign = 'right'; ctx.textBaseline = 'alphabetic';
    notes.forEach(n => ctx.fillText(n[0], x.getPixelForValue(n[1]), y.getPixelForValue(n[2])));
    ctx.restore();
    const hx = x.getPixelForValue(hiIdx), hy = y.getPixelForValue(candles[hiIdx][1]);
    bubble(ctx, hx - 7, hy - 51, 'Hi: ' + candles[hiIdx][1].toFixed(2), hx + 1, hy - 1, false);
    const lx = x.getPixelForValue(loIdx), ly = y.getPixelForValue(candles[loIdx][2]);
    ctx.save(); ctx.font = '23px ' + FONT; const lw = ctx.measureText('Lo: ' + candles[loIdx][2]).width + 22; ctx.restore();
    bubble(ctx, lx + 53 - lw, ly + 19, 'Lo: ' + candles[loIdx][2], lx + 30, ly + 19, true);
  },
  afterDraw(chart) {
    const { ctx, chartArea: a, scales: { y } } = chart;
    ctx.save(); ctx.fillStyle = '#575757'; ctx.fillRect(a.right, 0, 2, chart.height); ctx.restore();
    const X = a.right + 3;
    const blue = '#16a6ea', blueFg = '#06263d';
    taggedLevels.forEach(v => tag(ctx, X, y.getPixelForValue(v), String(v), blue, blueFg));
    tag(ctx, X, y.getPixelForValue(crossPrice), crossPrice.toFixed(2), '#b4b4b4', '#1a1a1a');
    tag(ctx, X, y.getPixelForValue(lastVwap), lastVwap.toFixed(2), '#ff4cff', '#3a003a');
    tag(ctx, X, y.getPixelForValue(lastClose), lastClose.toFixed(2), '#ff5c5c', '#3a0000');
    tag(ctx, X, y.getPixelForValue(prevClose), prevClose.toFixed(2), '#f6a9a9', '#6a0000');
    tag(ctx, X, y.getPixelForValue(lastStop), lastStop.toFixed(2), blue, blueFg);
  }
};

const levelSets = levels.map(v => ({ type: 'line', data: hLine(v, X_MIN - 5, X_MAX + 5), borderColor: '#14a4e4', borderWidth: 3, borderDash: [8, 18], pointRadius: 0, order: 9 }));

new Chart(document.getElementById('cMain'), {
  type: 'bar',
  data: {
    datasets: [
      ...levelSets,
      { type: 'line', data: hLine(prevClose, X_MIN - 5, prevCloseEnd), borderColor: '#cfa9a2', borderWidth: 2, pointRadius: 0, order: 8 },
      { type: 'line', data: stopX.map((v, i) => ({ x: v, y: stopY[i] })), borderColor: '#16a8ee', borderWidth: 4, pointRadius: 0, order: 7 },
      { type: 'line', data: pts(vwap), borderColor: '#e655e6', borderWidth: 2, pointRadius: 0, order: 6 },
      { type: 'bar', data: candles.map((c, i) => ({ x: i, y: [c[2], c[1]] })), backgroundColor: candles.map(c => c[3] >= c[0] ? UP : DN), barThickness: 1.5, grouped: false, order: 5 },
      { type: 'bar', data: candles.map((c, i) => ({ x: i, y: [c[0], c[3]] })), backgroundColor: candles.map(c => c[3] >= c[0] ? MAIN_BG : DN), borderColor: candles.map(c => c[3] >= c[0] ? UP : DN), borderWidth: 1.5, borderSkipped: false, barThickness: 6, minBarLength: 2, grouped: false, order: 4 },
      { type: 'line', data: pts(emaFast), borderColor: '#52e6e6', borderWidth: 2, pointRadius: 0, cubicInterpolationMode: 'monotone', order: 2 },
      { type: 'line', data: pts(emaSlow), borderColor: '#12f6f6', borderWidth: 5, pointRadius: 0, cubicInterpolationMode: 'monotone', borderJoinStyle: 'round', order: 1 }
    ]
  },
  options: {
    layout: { padding: 0 },
    scales: {
      x: xScale(false, '#5c5c5c', [2, 9]),
      y: yScale(585.6, 600.31, priceTicks, v => String(v), '#5c5c5c')
    }
  },
  plugins: [mainPlugin]
});

// ---------- VOLUME PANEL ----------
const lowerPlugin = (extra) => ({
  id: 'lowerDeco',
  beforeDraw(chart) {
    const { ctx, chartArea: a } = chart;
    ctx.save(); ctx.fillStyle = LOW_BG; ctx.fillRect(0, 0, chart.width, chart.height);
    if (a.bottom < chart.height) { ctx.fillStyle = '#090909'; ctx.fillRect(0, a.bottom, chart.width, chart.height - a.bottom); }
    ctx.restore();
  },
  afterDatasetsDraw(chart) {
    const { ctx, chartArea: a, scales: { x } } = chart;
    vline(ctx, x.getPixelForValue(crossBar), a.top, a.bottom, '#8a8a8a', 1);
  },
  afterDraw(chart) { if (extra) extra(chart); }
});

new Chart(document.getElementById('cVol'), {
  type: 'bar',
  data: { datasets: [{ data: volume.map((v, i) => ({ x: i, y: v })), backgroundColor: '#0b6c9e', barThickness: 3, grouped: false }] },
  options: {
    layout: { padding: 0 },
    scales: {
      x: xScale(false, '#353535', [5, 4]),
      y: yScale(0, 89130, volTicks, v => v.toLocaleString('en-US'), '#4a4a4a')
    }
  },
  plugins: [lowerPlugin()]
});

// ---------- RSI PANEL ----------
new Chart(document.getElementById('cRsi'), {
  type: 'line',
  data: {
    datasets: [
      { data: hLine(rsiUpper, X_MIN - 5, X_MAX + 5), borderColor: '#d5c385', borderWidth: 3, pointRadius: 0, order: 3 },
      { data: hLine(rsiLower, X_MIN - 5, X_MAX + 5), borderColor: '#d5c385', borderWidth: 3, pointRadius: 0, order: 3 },
      { data: rsi.map((v, i) => ({ x: i, y: v })), borderWidth: 2, pointRadius: 0, borderColor: '#8a8a8a', order: 1,
        segment: { borderColor: c => { const p = c.p0.parsed.y, q = c.p1.parsed.y; if (Math.max(p, q) > rsiUpper) return '#ff4b4b'; if (Math.min(p, q) < rsiLower) return '#1ee8f0'; return '#8a8a8a'; } } }
    ]
  },
  options: {
    layout: { padding: 0 },
    scales: {
      x: xScale(true, '#353535', [5, 4]),
      y: yScale(18.6, 97.1, rsiTicks, v => String(v), '#4a4a4a')
    }
  },
  plugins: [lowerPlugin(chart => {
    const { ctx, chartArea: a, scales: { x, y } } = chart;
    const X = a.right + 3;
    tag(ctx, X, y.getPixelForValue(rsiUpper), String(rsiUpper), '#f3dd8e', '#3a3000');
    tag(ctx, X, y.getPixelForValue(rsiLower), String(rsiLower), '#f3dd8e', '#3a3000');
    tag(ctx, X, y.getPixelForValue(rsi[rsi.length - 1]), String(rsi[rsi.length - 1]), '#b6b6b6', '#151515');
    const cx = x.getPixelForValue(crossBar);
    ctx.save(); ctx.font = '22px ' + FONT;
    const w = ctx.measureText(crossTime).width + 14;
    ctx.fillStyle = '#b4b4b4'; ctx.beginPath(); ctx.roundRect(cx, a.bottom + 4, w, 30, 5); ctx.fill();
    ctx.fillStyle = '#1c1c1c'; ctx.textBaseline = 'middle'; ctx.fillText(crossTime, cx + 7, a.bottom + 20);
    ctx.restore();
  })]
});
</script>
</body></html>
